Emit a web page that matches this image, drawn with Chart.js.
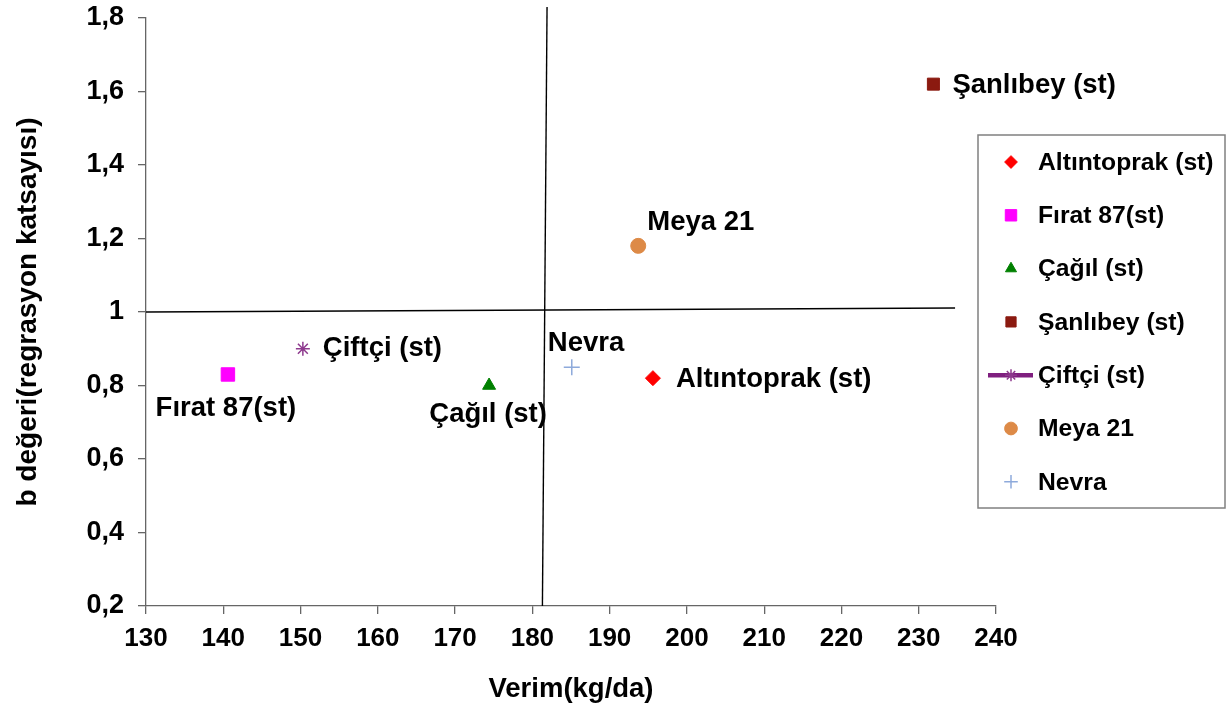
<!DOCTYPE html>
<html>
<head>
<meta charset="utf-8">
<script src="https://cdn.jsdelivr.net/npm/chart.js@4/dist/chart.umd.min.js"></script>
<style>
  html, body { margin: 0; padding: 0; background: #fff; }
  #wrap { width: 1227px; height: 710px; position: relative; }
</style>
</head>
<body>
<div id="wrap"><canvas id="stabilityChart"></canvas></div>
<script>
// Çeşitler (varieties) with yield and regression coefficient
const varieties = ["Altıntoprak (st)", "Fırat 87(st)", "Çağıl (st)", "Şanlıbey (st)", "Çiftçi (st)", "Meya 21", "Nevra"];
const verim = [195.6, 140.6, 174.4, 231.9, 150.3, 193.7, 185.1];
const bDegeri = [0.82, 0.83, 0.80, 1.62, 0.90, 1.18, 0.85];

// axis ranges
const xRange = [130, 240];
const xStep = 10;
const yRange = [0.2, 1.8];
const yStep = 0.2;

// reference lines (mean yield / b = 1) as drawn in the original
const meanLineX = [181.9, 181.3];
const meanLineY = [1.83, 0.2];
const unitLineX = [130, 234.7];
const unitLineY = [1.0, 1.011];

const FONT = '"Liberation Sans", Arial, sans-serif';

// marker look per variety
const markerStyles = [
  { pointStyle: 'rectRot', color: '#ff0000', radius: 7.5 },
  { pointStyle: 'rect', color: '#ff00ff', radius: 9.5 },
  { pointStyle: 'triangle', color: '#008000', radius: 7.5 },
  { pointStyle: 'rect', color: '#8b1a10', radius: 8.5 },
  { pointStyle: 'star', color: '#8e3a8e', radius: 7 },
  { pointStyle: 'circle', color: '#dd8a47', radius: 7.5 },
  { pointStyle: 'cross', color: '#8eaadb', radius: 8 }
];

// where each point label sits relative to its marker
const labelPlacement = [
  { dx: 23, dy: 1, align: 'left' },
  { dx: -2, dy: 34, align: 'center' },
  { dx: -1, dy: 29, align: 'center' },
  { dx: 19, dy: 1, align: 'left' },
  { dx: 20, dy: 0, align: 'left' },
  { dx: 9, dy: -23, align: 'left' },
  { dx: -24, dy: -24, align: 'left' }
];

const pointDatasets = varieties.map((name, i) => ({
  label: name,
  data: [{ x: verim[i], y: bDegeri[i] }],
  pointStyle: markerStyles[i].pointStyle,
  pointRadius: markerStyles[i].radius,
  backgroundColor: markerStyles[i].color,
  borderColor: markerStyles[i].color,
  borderWidth: (markerStyles[i].pointStyle === 'star' || markerStyles[i].pointStyle === 'cross') ? 1.5 : 1,
  showLine: false,
  isVariety: true
}));

const lineDatasets = [
  {
    label: 'mean',
    data: meanLineX.map((x, i) => ({ x: x, y: meanLineY[i] })),
    showLine: true, pointRadius: 0, borderColor: '#000', borderWidth: 1.4, clip: false
  },
  {
    label: 'unit',
    data: unitLineX.map((x, i) => ({ x: x, y: unitLineY[i] })),
    showLine: true, pointRadius: 0, borderColor: '#000', borderWidth: 1.4, clip: false
  }
];

// labels next to each marker
const pointLabels = {
  id: 'pointLabels',
  afterDatasetsDraw(chart) {
    const ctx = chart.ctx;
    ctx.save();
    ctx.font = 'bold 27.5px ' + FONT;
    ctx.fillStyle = '#000';
    ctx.textBaseline = 'middle';
    chart.data.datasets.forEach((ds, di) => {
      if (!ds.isVariety) return;
      const el = chart.getDatasetMeta(di).data[0];
      const p = labelPlacement[di];
      ctx.textAlign = p.align;
      ctx.fillText(ds.label, el.x + p.dx, el.y + p.dy);
    });
    ctx.restore();
  }
};

// boxed legend on the right, like the spreadsheet original
const boxLegend = {
  id: 'boxLegend',
  afterDraw(chart) {
    const ctx = chart.ctx;
    const box = { left: 978, top: 135, right: 1225, bottom: 508 };
    ctx.save();
    ctx.strokeStyle = '#808080';
    ctx.lineWidth = 1.5;
    ctx.strokeRect(box.left, box.top, box.right - box.left, box.bottom - box.top);
    ctx.font = 'bold 24.7px ' + FONT;
    ctx.textBaseline = 'middle';
    ctx.textAlign = 'left';
    varieties.forEach((name, i) => {
      const y = 162 + i * 53.3;
      const mx = 1011;
      const st = markerStyles[i];
      if (st.pointStyle === 'star') {
        ctx.strokeStyle = '#7f1f7f';
        ctx.lineWidth = 4.5;
        ctx.beginPath();
        ctx.moveTo(988, y);
        ctx.lineTo(1033, y);
        ctx.stroke();
      }
      ctx.fillStyle = st.color;
      ctx.strokeStyle = st.color;
      ctx.lineWidth = (st.pointStyle === 'star' || st.pointStyle === 'cross') ? 1.5 : 1;
      Chart.helpers.drawPoint(ctx, {
        pointStyle: st.pointStyle,
        radius: st.radius * 0.85,
        rotation: 0,
        borderWidth: ctx.lineWidth
      }, mx, y);
      ctx.fillStyle = '#000';
      ctx.fillText(name, 1038, y + 1);
    });
    ctx.restore();
  }
};

function commaTick(v) {
  return Number(v.toFixed(1)).toString().replace('.', ',');
}

new Chart(document.getElementById('stabilityChart'), {
  type: 'scatter',
  data: { datasets: pointDatasets.concat(lineDatasets) },
  options: {
    responsive: true,
    maintainAspectRatio: false,
    animation: false,
    layout: { padding: { top: 18, right: 231, bottom: 0, left: 0 } },
    plugins: {
      legend: { display: false },
      tooltip: { enabled: false }
    },
    scales: {
      x: {
        type: 'linear',
        min: xRange[0],
        max: xRange[1],
        afterFit: s => { s.height = 104; },
        ticks: {
          stepSize: xStep,
          color: '#000',
          padding: 9,
          font: { family: FONT, size: 26, weight: 'bold' }
        },
        grid: { drawOnChartArea: false, drawTicks: true, tickLength: 8, color: '#666', lineWidth: 1.3 },
        border: { display: true, color: '#666', width: 1.3 },
        title: {
          display: true,
          text: 'Verim(kg/da)',
          color: '#000',
          padding: { top: 0, bottom: 4 },
          font: { family: FONT, size: 27.5, weight: 'bold' }
        }
      },
      y: {
        type: 'linear',
        min: yRange[0],
        max: yRange[1],
        afterFit: s => { s.width = 146; s.paddingTop = 0; s.paddingBottom = 0; },
        ticks: {
          stepSize: yStep,
          color: '#000',
          padding: 14,
          callback: v => commaTick(v),
          font: { family: FONT, size: 27, weight: 'bold' }
        },
        grid: { drawOnChartArea: false, drawTicks: true, tickLength: 8, color: '#666', lineWidth: 1.3 },
        border: { display: true, color: '#666', width: 1.3 },
        title: {
          display: true,
          text: 'b değeri(regrasyon katsayısı)',
          color: '#000',
          padding: { top: 11, bottom: 0 },
          font: { family: FONT, size: 28, weight: 'bold' }
        }
      }
    }
  },
  plugins: [pointLabels, boxLegend]
});
</script>
</body>
</html>
